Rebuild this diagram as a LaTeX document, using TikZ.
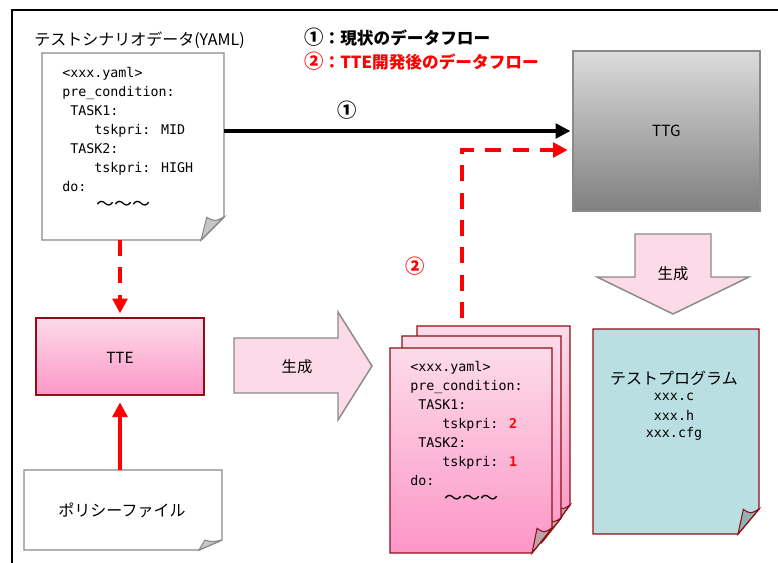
\documentclass[tikz,border=0pt]{standalone}
\usepackage{fontspec}
\newfontfamily\cjk{Noto Sans CJK JP}
\newfontfamily\monof{DejaVu Sans Mono}
\usetikzlibrary{arrows.meta,calc}
\definecolor{darkred}{HTML}{8E0F14}
\definecolor{bordergray}{HTML}{8A8A8A}
\definecolor{pinktop}{HTML}{FDDBE9}
\definecolor{pinkbot}{HTML}{FC96C7}
\definecolor{arrowpink}{HTML}{FDDAE7}
\definecolor{teal}{HTML}{BADFE2}
\definecolor{tealfold}{HTML}{8FB2B5}
\definecolor{pinkfold}{HTML}{BFA3AB}
\definecolor{grayfold}{HTML}{C6C6C6}
\definecolor{redline}{HTML}{FF0000}
\newcommand\docshape[5]{%
  \path[#2] (#1.north west) -- (#1.north east) -- ([yshift=#5*0.75pt]#1.south east)
     -- ([xshift=-#4*0.75pt]#1.south east) -- (#1.south west) -- cycle;
  \path[#3] ([xshift=-#4*0.75pt]#1.south east) -- ([xshift=-#4*0.56pt,yshift=#5*0.74pt]#1.south east)
     .. controls ([xshift=-#4*0.3pt,yshift=#5*0.6pt]#1.south east) .. ([yshift=#5*0.75pt]#1.south east) -- cycle;
}
\newcommand\ind[1]{\hspace*{#1}}
\newcommand\tildes{{\cjk\fontsize{13.5}{14.25}\selectfont ～～～}}
\newcommand\circnum[1]{{\fontsize{14.5}{14}\selectfont #1}}
\tikzset{
  area/.style={inner sep=0pt, outer sep=0pt, draw=none},
  jp/.style={font=\cjk\fontsize{12}{14}\selectfont, inner sep=0pt},
  lbl/.style={font=\cjk\fontsize{11.5}{14}\selectfont, inner sep=0pt},
  code/.style={font=\monof\fontsize{10}{14.25}\selectfont, align=left, inner sep=0pt, anchor=north west},
  fname/.style={font=\monof\fontsize{10}{14.25}\selectfont, inner sep=0pt},
  whitedoc/.style={draw=bordergray, line width=1.1pt, fill=white, line join=miter},
  pinkdoc/.style={draw=darkred, line width=1.1pt, top color=pinktop, bottom color=pinkbot},
  tealdoc/.style={draw=darkred, line width=1.1pt, fill=teal},
  grayfoldst/.style={draw=bordergray, line width=0.8pt, fill=grayfold},
  pinkfoldst/.style={draw=darkred, line width=0.8pt, fill=pinkfold},
  tealfoldst/.style={draw=darkred, line width=0.8pt, fill=tealfold},
  bigarrow/.style={draw=bordergray, line width=1.1pt, fill=arrowpink},
  blackarrow/.style={line width=2.3pt, -{Triangle[length=11pt,width=11pt]}},
  reddash/.style={draw=redline, line width=2.6pt, dash pattern=on 12pt off 8.5pt, -{Triangle[length=11pt,width=11pt]}},
  redsolid/.style={draw=redline, line width=2.8pt, -{Triangle[length=11pt,width=11pt]}},
}
\begin{document}
\begin{tikzpicture}[x=0.75pt,y=-0.75pt]
\useasboundingbox (0,0) rectangle (778,563);
% outer frame (only top and left visible)
\draw[line width=1.5pt] (12,570) -- (12,10) -- (790,10);

% title and legend
\node[jp, anchor=west] (title) at (34,40) {テストシナリオデータ(YAML)};
\node[jp, anchor=west, font=\cjk\bfseries\fontsize{12.5}{14}\selectfont] (leg1) at (304,37) {\circnum{①}：現状のデータフロー};
\node[jp, anchor=west, text=redline, font=\cjk\bfseries\fontsize{12.5}{14}\selectfont] (leg2) at (304,61) {\circnum{②}：TTE開発後のデータフロー};

% YAML document
\node[area, minimum width=136.5pt, minimum height=140.25pt] (yaml) at (133,146.5) {};
\docshape{yaml}{whitedoc}{grayfoldst}{23}{23}
\node[code] (yamltext) at (62,67) {<xxx.yaml>\\pre\_condition:\\\ind{6pt}TASK1:\\\ind{24pt}tskpri: MID\\\ind{6pt}TASK2:\\\ind{24pt}tskpri: HIGH\\do:\\\ind{26pt}\tildes};

% TTG
\node[area, draw=bordergray, line width=1.5pt, top color=black!14, bottom color=black!50,
      minimum width=140.25pt, minimum height=120pt] (ttg) at (666.5,131) {};
\node[lbl] (ttglbl) at (ttg.center) {TTG};

% TTE
\node[area, draw=darkred, line width=1.1pt, top color=pinktop, bottom color=pinkbot,
      minimum width=126pt, minimum height=57.75pt] (tte) at (120,356.5) {};
\node[lbl] (ttelbl) at (120,358) {TTE};

% policy file
\node[area, minimum width=148.5pt, minimum height=60pt] (policy) at (123,510) {};
\docshape{policy}{whitedoc}{grayfoldst}{23}{10}
\node[jp] (policylbl) at (122,510) {ポリシーファイル};

% generate arrow right
\path[bigarrow] (234,338) -- (338,338) -- (338,312) -- (372,366) -- (338,420) -- (338,393) -- (234,393) -- cycle;
\node[lbl] (gen1) at (297,367) {生成};

% generate arrow down
\path[bigarrow] (635,234) -- (711,234) -- (711,277) -- (749,277) -- (673,314) -- (597,277) -- (635,277) -- cycle;
\node[lbl] (gen2) at (673,274) {生成};

% stacked YAML documents
\node[area, minimum width=114.75pt, minimum height=152.25pt] (stackB) at (493.5,427.5) {};
\docshape{stackB}{pinkdoc}{pinkfoldst}{18}{24}
\node[area, minimum width=119.25pt, minimum height=154.5pt] (stackM) at (481.5,439) {};
\docshape{stackM}{pinkdoc}{pinkfoldst}{19}{24}
\node[area, minimum width=121.5pt, minimum height=153.75pt] (stackF) at (471,450.5) {};
\docshape{stackF}{pinkdoc}{pinkfoldst}{20}{25}
\node[code] (stacktext) at (410,361) {<xxx.yaml>\\pre\_condition:\\\ind{6pt}TASK1:\\\ind{24pt}tskpri: {\color{redline}\bfseries 2}\\\ind{6pt}TASK2:\\\ind{24pt}tskpri: {\color{redline}\bfseries 1}\\do:\\\ind{26pt}\tildes};

% test program
\node[area, minimum width=124.5pt, minimum height=153.75pt] (prog) at (676,431.5) {};
\docshape{prog}{tealdoc}{tealfoldst}{21}{25}
\node[jp] (progtitle) at (674,378) {テストプログラム};
\node[fname] (f1) at (674,397) {xxx.c};
\node[fname] (f2) at (674,415) {xxx.h};
\node[fname] (f3) at (674,434) {xxx.cfg};

% connectors
\draw[blackarrow, shorten >=2pt] (yaml.east |- ttg.west) -- (ttg.west);
\node[jp, font=\cjk\bfseries\fontsize{14.5}{14}\selectfont] (c1) at (347,110) {①};
\draw[reddash, shorten >=3.5pt] (tte.north |- yaml.south) -- (tte.north);
\draw[redsolid, shorten >=5.5pt] (tte.south |- policy.north) -- (tte.south);
\coordinate (s2) at (462,318);
\draw[reddash, shorten >=4pt] (s2) |- ([yshift=-14.25pt]ttg.west);
\node[jp, text=redline, font=\cjk\bfseries\fontsize{14.5}{14}\selectfont] (c2) at (415,266) {②};
\end{tikzpicture}
\end{document}
